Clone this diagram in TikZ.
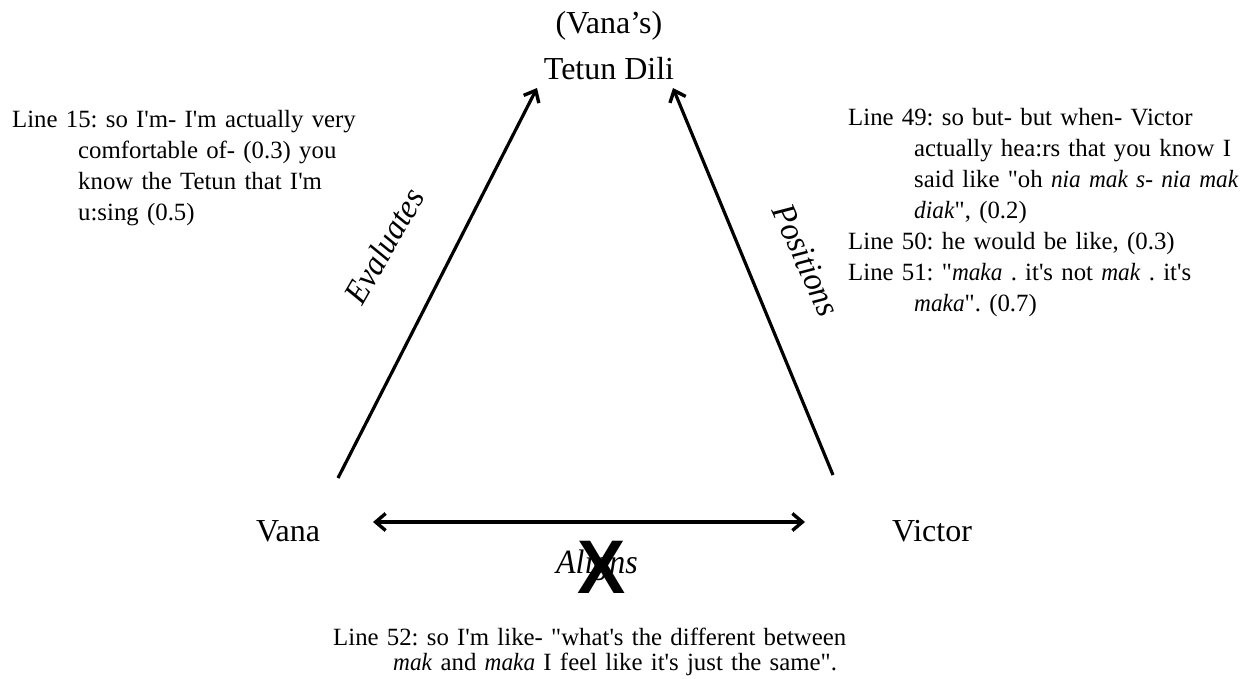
\documentclass[tikz,border=0pt]{standalone}
\usepackage{fontspec}
\setmainfont{Liberation Serif}[Ligatures=TeXOff, ItalicFeatures={FakeStretch=0.94}]
\newfontfamily\xfont{Liberation Sans}
\usetikzlibrary{arrows.meta}
\frenchspacing
\tikzset{
  party/.style={inner sep=0pt, font=\fontsize{32}{40}\selectfont},
  relation/.style={inner sep=0pt, font=\fontsize{34}{40}\selectfont\itshape},
  quote/.style={inner sep=0pt, anchor=north west, text width=440pt, align=left, font=\fontsize{24.8}{31}\selectfont},
  barb/.tip={Straight Barb[length=10pt,width=17pt,line width=3.4pt]},
  link/.style={line width=3.2pt, -barb},
  duallink/.style={line width=3.2pt, barb-barb},
}
\newcommand{\ind}{\hspace*{66pt}}
\begin{document}
\begin{tikzpicture}[x=1pt,y=-1pt]
\useasboundingbox (0,0) rectangle (1247,678);
\node[party, align=center] (tetun) at (609,46) {(Vana’s)\\[6pt]Tetun Dili};
\node[party] (vana) at (288,531) {Vana};
\node[party] (victor) at (932,531) {Victor};

\draw[link] ([shift={(50,-53)}]vana.center) -- ([shift={(-72,42)}]tetun.center);
\draw[link] ([shift={(-99,-56)}]victor.center) -- ([shift={(64,42)}]tetun.center);
\draw[duallink] ([shift={(85,-9)}]vana.center) -- ([shift={(-127,-9)}]victor.center);

\node[relation, rotate=60] (evaluates) at (384,246) {Evaluates};
\node[relation, rotate=-66] (positions) at (806,260) {Positions};
\node[relation] (aligns) at (597,565) {Aligns};
\node[inner sep=0pt, xscale=0.95, font=\fontsize{76}{76}\selectfont\xfont\bfseries] (cross) at (602,567) {X};

\node[quote] (q15) at (12,110) {Line 15: so I'm- I'm actually very\\
\ind comfortable of- (0.3) you\\
\ind know the Tetun that I'm\\
\ind u:sing (0.5)};

\node[quote] (q49) at (848,108) {Line 49: so but- but when- Victor\\
\ind actually hea:rs that you know I\\
\ind said like "oh \textit{nia mak s- nia mak}\\
\ind \textit{diak}", (0.2)\\
Line 50: he would be like, (0.3)\\
Line 51: "\textit{maka} . it's not \textit{mak} . it's\\
\ind \textit{maka}". (0.7)};

\node[quote, text width=600pt, font=\fontsize{24.8}{25}\selectfont] (q52) at (333,628) {Line 52: so I'm like- "what's the different between\\
\hspace*{60pt}\textit{mak} and \textit{maka} I feel like it's just the same".};
\end{tikzpicture}
\end{document}
